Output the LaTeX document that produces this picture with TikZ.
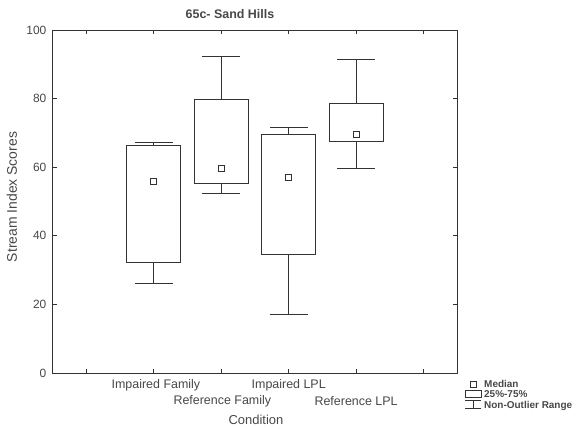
\documentclass[tikz,border=0pt]{standalone}
\usepackage{fontspec}
\setmainfont{Liberation Sans}
\begin{document}
\begin{tikzpicture}[x=1bp,y=-1bp,
  declare function={px(\p)=86.5+67.4*\p; vy(\v)=373-3.43*\v;},
  ln/.style={draw=black!80, line width=0.9bp},
  lab/.style={text=black!72, inner sep=0pt, font=\fontsize{12.5}{14}\selectfont},
  ticklab/.style={text=black!72, inner sep=0pt, font=\fontsize{12}{14}\selectfont},
  leg/.style={text=black!72, inner sep=0pt, anchor=west, font=\bfseries\fontsize{10}{11}\selectfont}]
\useasboundingbox (0,0) rectangle (581,428);
% frame
\draw[ln] ({px(-0.5)},{vy(100)}) rectangle ({px(5.5)},{vy(0)});
% y ticks and labels
\foreach \v in {0,20,40,60,80,100} {
  \draw[ln] ({px(-0.5)},{vy(\v)}) -- ++(4,0);
  \draw[ln] ({px(5.5)},{vy(\v)}) -- ++(-4,0);
  \node[ticklab, anchor=east] (yl\v) at (46.5,{vy(\v)}) {\v};
}
% x ticks
\foreach \p in {0,...,5} {
  \draw[ln] ({px(\p)},{vy(0)}) -- ++(0,-4);
  \draw[ln] ({px(\p)},{vy(100)}) -- ++(0,4);
}
% boxes
\foreach \p/\lo/\qa/\qb/\hi/\md in {1/26/32.1/66.3/67.2/55.8, 2/52.3/55.4/79.7/92.2/59.5, 3/17.2/34.5/69.5/71.5/57.1, 4/59.5/67.6/78.6/91.5/69.6} {
  \draw[ln] ({px(\p)-27},{vy(\qa)}) rectangle ({px(\p)+27},{vy(\qb)});
  \draw[ln] ({px(\p)},{vy(\qb)}) -- ({px(\p)},{vy(\hi)});
  \draw[ln] ({px(\p)-19},{vy(\hi)}) -- ({px(\p)+19},{vy(\hi)});
  \draw[ln] ({px(\p)},{vy(\qa)}) -- ({px(\p)},{vy(\lo)});
  \draw[ln] ({px(\p)-19},{vy(\lo)}) -- ({px(\p)+19},{vy(\lo)});
  \draw[ln] ({px(\p)-3},{vy(\md)-3}) rectangle ({px(\p)+3},{vy(\md)+3});
}
% title and axis labels
\node[text=black!72, inner sep=0pt, font=\bfseries\fontsize{12.5}{14}\selectfont] (title) at (230,14) {65c- Sand Hills};
\node[lab, rotate=90, font=\fontsize{14}{16}\selectfont] (ylab) at (12,197) {Stream Index Scores};
\node[lab] (c1) at ({px(1)+2},385) {Impaired Family};
\node[lab] (c2) at ({px(2)+1},401) {Reference Family};
\node[lab] (c3) at ({px(3)},385) {Impaired LPL};
\node[lab] (c4) at ({px(4)},401) {Reference LPL};
\node[lab, font=\fontsize{13}{15}\selectfont] (xlab) at (256,419.5) {Condition};
% legend
\draw[ln] (470.5,381) rectangle (476.5,387);
\node[leg] (lmed) at (484,384) {Median};
\draw[ln] (465,390.5) rectangle (481,397.5);
\node[leg] (lbox) at (484,394.5) {25\%-75\%};
\draw[ln] (465,400.5) -- (481,400.5) (473,400.5) -- (473,408.5) (465,408.5) -- (481,408.5);
\node[leg] (lrng) at (484,405.5) {Non-Outlier Range};
\end{tikzpicture}
\end{document}
